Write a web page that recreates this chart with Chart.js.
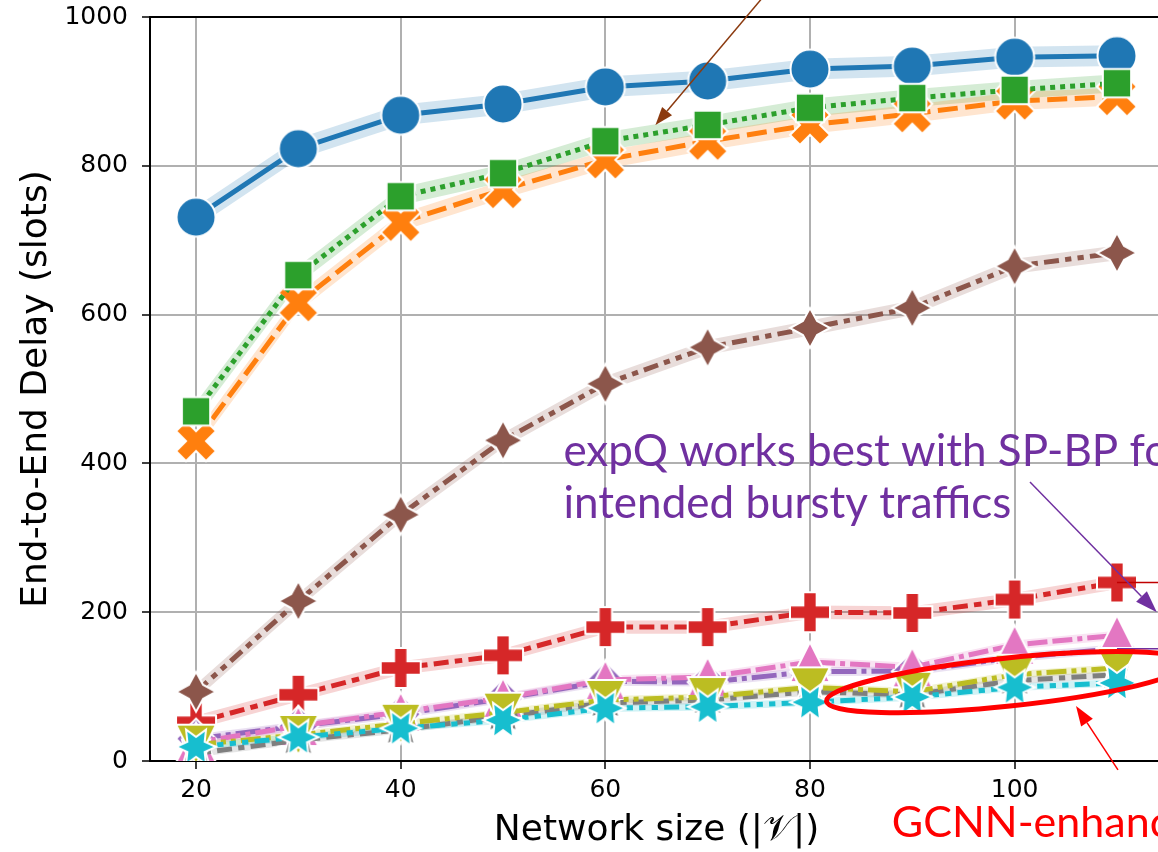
<!DOCTYPE html>
<html>
<head>
<meta charset="utf-8">
<script src="https://cdn.jsdelivr.net/npm/chart.js@4.4.1/dist/chart.umd.min.js"></script>
<style>
  html, body { margin: 0; padding: 0; background: #fff; overflow: hidden; }
  #wrap { position: absolute; left: 0; top: 0; width: 1200px; height: 852px; }
</style>
</head>
<body>
<div id="wrap"><canvas id="c" width="1200" height="852"></canvas></div>
<script>
// Network sizes on the x axis
const networkSizes = [20, 30, 40, 50, 60, 70, 80, 90, 100, 110];

// End-to-end delay (slots) per scheme
const blueDelay   = [731, 823, 868, 883, 906, 914, 930, 934, 946, 948];
const orangeDelay = [430, 616, 724, 768, 808, 833, 855, 870, 887, 893];
const greenDelay  = [470, 653, 759, 790, 833, 855, 878, 891, 902, 911];
const redDelay    = [52, 89, 125, 142, 180, 180, 200, 199, 217, 240];
const purpleDelay = [30, 47, 63, 84, 107, 106, 120, 121, 139, 151];
const brownDelay  = [93, 215, 331, 431, 507, 556, 582, 609, 665, 683];
const pinkDelay   = [25, 47, 66, 85, 109, 113, 133, 126, 156, 169];
const grayDelay   = [10, 28, 42, 60, 78, 82, 93, 89, 108, 116];
const oliveDelay  = [22, 35, 50, 65, 82, 86, 99, 93, 116, 125];
const cyanDelay   = [19, 32, 44, 55, 71, 73, 79, 86, 99, 105];

// Half-width of the confidence band of each scheme (slots)
const bandHalfWidth = [14, 12, 12, 9, 6, 10, 6, 5, 5, 5];

// Axis ticks
const xTickValues = [20, 40, 60, 80, 100];
const yTickValues = [0, 200, 400, 600, 800, 1000];

// ---- marker sprites (filled shape with a white edge) ----
function sprite(color, pathFn) {
  const size = 48;
  const cv = document.createElement('canvas');
  cv.width = size; cv.height = size;
  const g = cv.getContext('2d');
  g.translate(size / 2, size / 2);
  g.beginPath();
  pathFn(g);
  g.closePath();
  g.fillStyle = color;
  g.fill();
  g.lineWidth = 2;
  g.lineJoin = 'miter';
  g.strokeStyle = '#ffffff';
  g.stroke();
  return cv;
}
function polyPath(pts, k) {
  return g => pts.forEach(([x, y], i) => i ? g.lineTo(x * k, -y * k) : g.moveTo(x * k, -y * k));
}
function starPath(n, outer, inner, rotDeg) {
  const pts = [];
  const m = inner == null ? n : 2 * n;
  for (let i = 0; i < m; i++) {
    const r = (inner == null || i % 2 === 0) ? outer : inner;
    const a = Math.PI / 2 + rotDeg * Math.PI / 180 + i * 2 * Math.PI / m;
    pts.push([r * Math.cos(a), r * Math.sin(a)]);
  }
  return polyPath(pts, 1);
}
const R = 20;
const shapes = {
  circle: g => g.arc(0, 0, R - 0.5, 0, Math.PI * 2),
  xFilled: polyPath([[-1,-2],[0,-1],[1,-2],[2,-1],[1,0],[2,1],[1,2],[0,1],[-1,2],[-2,1],[-1,0],[-2,-1]], R / 2),
  square: starPath(4, R, null, 45),
  plusFilled: polyPath([[-1,-3],[1,-3],[1,-1],[3,-1],[3,1],[1,1],[1,3],[-1,3],[-1,1],[-3,1],[-3,-1],[-1,-1]], R / 3),
  diamond: starPath(4, R, null, 0),
  star4: starPath(4, R, R / 2, 0),
  triUp: polyPath([[0,1],[-1,-1],[1,-1]], R),
  star4Rot: starPath(4, R, R / 2, 45),
  triDown: polyPath([[0,-1],[-1,1],[1,1]], R),
  star6: starPath(6, R, R / 2, 30)
};

const LW = 5;
const series = [
  { values: blueDelay,   color: '#1f77b4', rgb: '31,119,180',  shape: 'circle',     dash: [] },
  { values: orangeDelay, color: '#ff7f0e', rgb: '255,127,14',  shape: 'xFilled',    dash: [4, 1.5] },
  { values: greenDelay,  color: '#2ca02c', rgb: '44,160,44',   shape: 'square',     dash: [1, 1] },
  { values: redDelay,    color: '#d62728', rgb: '214,39,40',   shape: 'plusFilled', dash: [3, 1.25, 1.5, 1.25] },
  { values: purpleDelay, color: '#9467bd', rgb: '148,103,189', shape: 'diamond',    dash: [5, 1, 1, 1] },
  { values: brownDelay,  color: '#8c564b', rgb: '140,86,75',   shape: 'star4',      dash: [3, 1.25, 1.25, 1.25, 1.25, 1.25] },
  { values: pinkDelay,   color: '#e377c2', rgb: '227,119,194', shape: 'triUp',      dash: [4, 1, 4, 1, 1, 1] },
  { values: grayDelay,   color: '#7f7f7f', rgb: '127,127,127', shape: 'star4Rot',   dash: [3, 1.25, 3, 1.25, 1.25, 1.25] },
  { values: oliveDelay,  color: '#bcbd22', rgb: '188,189,34',  shape: 'triDown',    dash: [4, 1, 1, 1, 1, 1] },
  { values: cyanDelay,   color: '#17becf', rgb: '23,190,207',  shape: 'star6',      dash: [3, 1.25, 1.25, 1.25, 1.25, 1.25, 1.25, 1.25] }
];

const datasets = [];
series.forEach((s, i) => {
  const lower = s.values.map((v, k) => ({ x: networkSizes[k], y: v - bandHalfWidth[i] }));
  const upper = s.values.map((v, k) => ({ x: networkSizes[k], y: v + bandHalfWidth[i] }));
  datasets.push({
    data: lower, borderWidth: 0, pointRadius: 0, fill: false,
    borderColor: 'rgba(0,0,0,0)', order: 200 + i
  });
  datasets.push({
    data: upper, borderWidth: 0, pointRadius: 0, fill: '-1',
    borderColor: 'rgba(0,0,0,0)', backgroundColor: 'rgba(' + s.rgb + ',0.2)', order: 100 + i
  });
});
series.forEach((s, i) => {
  datasets.push({
    data: s.values.map((v, k) => ({ x: networkSizes[k], y: v })),
    borderColor: s.color,
    borderWidth: LW,
    borderDash: s.dash.map(d => d * LW),
    borderCapStyle: 'butt',
    fill: false,
    tension: 0,
    pointStyle: sprite(s.color, shapes[s.shape]),
    pointRadius: 20,
    order: 20 - i
  });
});

// ---- annotations (data coordinates) ----
const brownArrow  = { from: [75.3, 1025], to: [64.9, 855] };
const purpleArrow = { from: [101.5, 375], to: [113.9, 200] };
const redArrow    = { from: [110.1, -12], to: [106.0, 74] };
const gcnnEllipse = { center: [99.3, 106], rx: 182, ry: 24, rotDeg: -6 };
const purpleNote  = { at: [55.9, 397], linePx: 52, lines: ['expQ works best with SP-BP for', 'intended bursty traffics'] };
const redNote     = { at: [88.0, -102], text: 'GCNN-enhanced' };

function drawArrow(ctx, x0, y0, x1, y1, color, lw, headLen, headW) {
  const a = Math.atan2(y1 - y0, x1 - x0);
  const bx = x1 - headLen * Math.cos(a), by = y1 - headLen * Math.sin(a);
  ctx.strokeStyle = color; ctx.lineWidth = lw;
  ctx.beginPath(); ctx.moveTo(x0, y0); ctx.lineTo(bx, by); ctx.stroke();
  ctx.fillStyle = color;
  ctx.beginPath();
  ctx.moveTo(x1, y1);
  ctx.lineTo(bx + headW / 2 * Math.sin(a), by - headW / 2 * Math.cos(a));
  ctx.lineTo(bx - headW / 2 * Math.sin(a), by + headW / 2 * Math.cos(a));
  ctx.closePath(); ctx.fill();
}

// Plot frame on the canvas; its right edge runs past the visible page
const frame = { left: 150, top: 17, right: 1163, bottom: 761 };

// Pin the chart area and both scales to the frame once layout has run
const framePlugin = {
  id: 'frame',
  afterLayout(chart) {
    const ca = chart.chartArea;
    ca.left = frame.left; ca.right = frame.right; ca.top = frame.top; ca.bottom = frame.bottom;
    ca.width = frame.right - frame.left; ca.height = frame.bottom - frame.top;
    const { x, y } = chart.scales;
    x.left = frame.left; x.right = frame.right; x.width = ca.width;
    y.top = frame.top; y.bottom = frame.bottom; y.height = ca.height;
    x.configure(); y.configure();
  }
};

const notesPlugin = {
  id: 'notes',
  afterDatasetsDraw(chart) {
    const { ctx, chartArea, scales: { x, y } } = chart;
    const px = v => x.getPixelForValue(v), py = v => y.getPixelForValue(v);
    ctx.save();
    // top spine
    ctx.strokeStyle = '#000'; ctx.lineWidth = 2;
    ctx.beginPath(); ctx.moveTo(chartArea.left, chartArea.top); ctx.lineTo(chartArea.right, chartArea.top); ctx.stroke();

    // connectors leaving the last points of the red and purple curves
    const last = networkSizes.length - 1;
    ctx.lineWidth = 1.5;
    ctx.strokeStyle = '#c00000';
    ctx.beginPath(); ctx.moveTo(px(networkSizes[last]), py(redDelay[last])); ctx.lineTo(chart.width, py(redDelay[last])); ctx.stroke();
    ctx.strokeStyle = '#7030a0';
    ctx.beginPath(); ctx.moveTo(px(networkSizes[last]), py(purpleDelay[last])); ctx.lineTo(chart.width, py(purpleDelay[last])); ctx.stroke();

    // ellipse around the GCNN-enhanced curves
    ctx.strokeStyle = '#ff0000'; ctx.lineWidth = 5;
    ctx.beginPath();
    ctx.ellipse(px(gcnnEllipse.center[0]), py(gcnnEllipse.center[1]), gcnnEllipse.rx, gcnnEllipse.ry,
      gcnnEllipse.rotDeg * Math.PI / 180, 0, Math.PI * 2);
    ctx.stroke();

    drawArrow(ctx, px(brownArrow.from[0]), py(brownArrow.from[1]), px(brownArrow.to[0]), py(brownArrow.to[1]), '#8b3a0f', 1.5, 18, 13);
    drawArrow(ctx, px(purpleArrow.from[0]), py(purpleArrow.from[1]), px(purpleArrow.to[0]), py(purpleArrow.to[1]), '#7030a0', 1.5, 22, 15);
    drawArrow(ctx, px(redArrow.from[0]), py(redArrow.from[1]), px(redArrow.to[0]), py(redArrow.to[1]), '#ff0000', 1.5, 20, 14);

    ctx.textAlign = 'left'; ctx.textBaseline = 'alphabetic';
    ctx.fillStyle = '#7030a0';
    ctx.font = '44px Lato';
    purpleNote.lines.forEach((t, i) => ctx.fillText(t, px(purpleNote.at[0]), py(purpleNote.at[1]) + i * purpleNote.linePx));
    ctx.fillStyle = '#ff0000';
    ctx.font = '43px Lato';
    ctx.fillText(redNote.text, px(redNote.at[0]), py(redNote.at[1]));
    ctx.restore();
  }
};

new Chart(document.getElementById('c'), {
  type: 'line',
  data: { datasets },
  options: {
    responsive: false,
    animation: false,
    devicePixelRatio: 1,
    layout: { padding: { left: 0, top: frame.top, right: 1200 - frame.right, bottom: 0 } },
    plugins: { legend: { display: false }, tooltip: { enabled: false } },
    scales: {
      x: {
        type: 'linear', min: 15.5, max: 114.5,
        afterBuildTicks: s => { s.ticks = xTickValues.map(v => ({ value: v })); },
        afterFit: s => { s.height = 852 - frame.bottom; s.paddingLeft = 0; s.paddingRight = 0; },
        grid: { color: '#b0b0b0', lineWidth: 2, tickLength: 8, tickColor: '#000', tickWidth: 1.5 },
        border: { color: '#000', width: 2 },
        ticks: { font: { family: 'DejaVu Sans', size: 25 }, color: '#000', padding: 6, maxRotation: 0,
                 autoSkip: false, callback: v => String(v) },
        title: { display: true, text: 'Network size (|𝒱|)', color: '#000',
                 font: { family: 'DejaVu Sans', size: 36 }, padding: { top: 0, bottom: 0 } }
      },
      y: {
        type: 'linear', min: 0, max: 1000,
        afterBuildTicks: s => { s.ticks = yTickValues.map(v => ({ value: v })); },
        afterFit: s => { s.width = frame.left; s.paddingTop = 0; s.paddingBottom = 0; },
        grid: { color: '#b0b0b0', lineWidth: 2, tickLength: 8, tickColor: '#000', tickWidth: 1.5 },
        border: { color: '#000', width: 2 },
        ticks: { font: { family: 'DejaVu Sans', size: 25 }, color: '#000', padding: 14, callback: v => String(v) },
        title: { display: true, text: 'End-to-End Delay (slots)', color: '#000',
                 font: { family: 'DejaVu Sans', size: 36 }, padding: { top: 15, bottom: 0 } }
      }
    }
  },
  plugins: [framePlugin, notesPlugin]
});
</script>
</body>
</html>
